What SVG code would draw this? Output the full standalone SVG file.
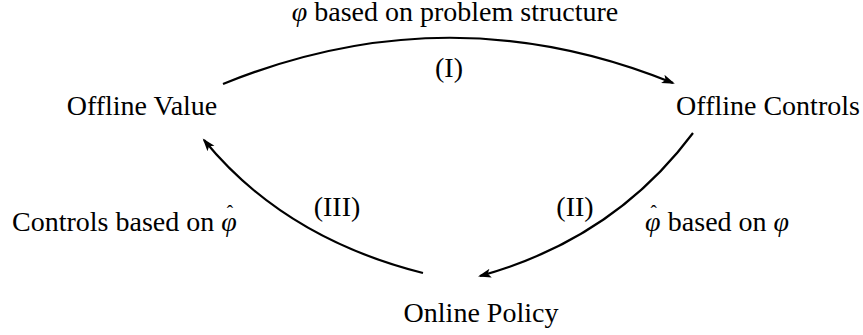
<svg xmlns="http://www.w3.org/2000/svg" width="863" height="335" viewBox="0 0 863 335">
<style>
.t{font-family:'Liberation Serif','DejaVu Serif',serif;font-size:28px;fill:#000}
.m{font-style:italic}
.h{font-size:19px;font-style:normal}
.e{fill:none;stroke:#000;stroke-width:2.2}
</style>
<defs>
<marker id="ah" markerUnits="userSpaceOnUse" markerWidth="14" markerHeight="12" refX="11" refY="5" orient="auto" viewBox="0 0 14 10">
<path d="M0,0.5 L13,5 L0,9.5 L3,5 z" fill="#000"/>
</marker>
</defs>
<rect width="863" height="335" fill="#fff"/>
<g id="n-offline-value"><text class="t" x="142" y="115" text-anchor="middle">Offline Value</text></g>
<g id="n-offline-controls"><text class="t" x="768" y="115" text-anchor="middle">Offline Controls</text></g>
<g id="n-online-policy"><text class="t" x="481" y="322" text-anchor="middle">Online Policy</text></g>
<g id="connectors">
<path class="e" d="M223,84 Q449,-8 673,83" marker-end="url(#ah)"/>
<path class="e" d="M693,133 Q614,239 480,276" marker-end="url(#ah)"/>
<path class="e" d="M423,273 Q284,238 204,140" marker-end="url(#ah)"/>
</g>
<g id="labels">
<text class="t" x="455" y="21" text-anchor="middle"><tspan class="m">φ</tspan> based on problem structure</text>
<text class="t" x="449" y="77" text-anchor="middle">(I)</text>
<text class="t" x="575" y="216" text-anchor="middle">(II)</text>
<text class="t" x="337" y="216" text-anchor="middle">(III)</text>
<text class="t" x="12" y="231">Controls based on <tspan class="m">φ</tspan><tspan class="h" dx="-10" dy="-13">ˆ</tspan></text>
<text class="t" x="645" y="231"><tspan class="m">φ</tspan><tspan class="h" dx="-10" dy="-13">ˆ</tspan><tspan dx="4" dy="13"> based on </tspan><tspan class="m">φ</tspan></text>
</g>
</svg>
